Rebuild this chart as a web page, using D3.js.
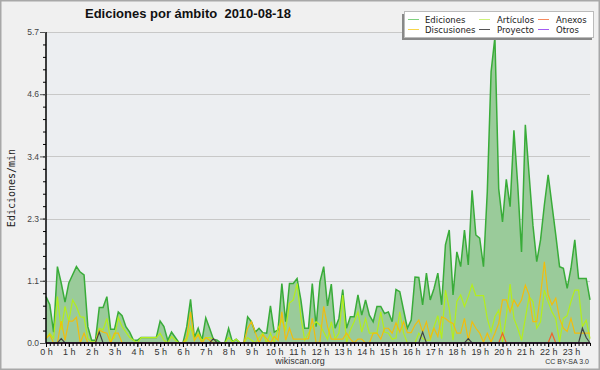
<!DOCTYPE html>
<html lang="es">
<head>
   <meta charset="utf-8">
   <title>Ediciones por ámbito 2010-08-18</title>
   <script src="https://cdn.jsdelivr.net/npm/d3@7"></script>
   <style type="text/css">
      body { margin: 0; background: #f0f0f0; }
      svg { display: block; }
      .tick text { font-family: "Liberation Sans", Arial, sans-serif; }
   </style>
</head>
<body>
   <script type="text/javascript">

      var w = 600;
      var h = 370;
      var margin = { top: 32, right: 10, bottom: 27, left: 46 };

      // 144 slots of 10 minutes, values in edits per minute
      var slots = d3.range(144);
      var hourTicks = d3.range(24);
      var yTicks = [0, 1.14, 2.28, 3.42, 4.56, 5.7];
      var yMax = 5.7;

      var ediciones = [
         0.85, 0.7, 0.2, 1.4, 1.1, 0.75, 1.1, 1.25, 1.4, 1.3, 1.25, 0.3,
         0.05, 0.05, 0.65, 0.65, 0.85, 0.25, 0.25, 0.57, 0.5, 0.3, 0.2, 0.05,
         0.05, 0.1, 0.1, 0.1, 0.1, 0.1, 0.4, 0.3, 0.05, 0.2, 0.1, 0.0,
         0.0, 0.3, 0.8, 0.1, 0.27, 0.05, 0.46, 0.27, 0.07, 0.05, 0.0, 0.0,
         0.27, 0.02, 0.07, 0.0, 0.0, 0.48, 0.39, 0.2, 0.27, 0.19, 0.18, 0.68,
         0.2, 0.24, 1.09, 0.39, 1.09, 1.09, 1.18, 0.79, 0.27, 0.27, 1.09, 0.3,
         1.12, 1.4, 0.68, 1.08, 0.27, 0.45, 0.98, 0.27, 0.48, 0.48, 0.88, 0.51,
         0.79, 0.51, 0.39, 0.67, 0.67, 0.54, 0.57, 0.39, 0.98, 0.94, 0.6, 0.27,
         0.42, 1.21, 1.2, 0.7, 1.28, 0.79, 1.0, 1.28, 0.7, 1.8, 2.07, 0.88,
         1.67, 1.4, 2.07, 1.43, 2.8, 1.98, 1.92, 1.4, 2.77, 4.97, 5.6, 2.83,
         2.22, 3.0, 2.5, 3.9, 2.9, 1.67, 4.0, 3.08, 2.16, 1.49, 1.89, 2.53,
         3.08, 2.53, 1.98, 1.4, 1.37, 1.0, 1.37, 1.89, 1.18, 1.18, 1.18, 0.79
      ];

      var articulos = [
         0.08, 0.18, 0.08, 0.85, 0.24, 0.67, 0.4, 0.79, 0.67, 0.48, 0.47, 0.08,
         0.02, 0.02, 0.27, 0.24, 0.45, 0.05, 0.1, 0.47, 0.3, 0.2, 0.1, 0.05,
         0.0, 0.1, 0.1, 0.1, 0.1, 0.1, 0.18, 0.05, 0.0, 0.12, 0.05, 0.0,
         0.0, 0.05, 0.3, 0.05, 0.18, 0.05, 0.1, 0.1, 0.07, 0.0, 0.0, 0.0,
         0.1, 0.02, 0.07, 0.0, 0.0, 0.1, 0.05, 0.0, 0.1, 0.18, 0.0, 0.18,
         0.0, 0.27, 0.42, 0.24, 0.73, 0.79, 1.09, 0.48, 0.05, 0.18, 0.3, 0.39,
         0.33, 0.2, 0.07, 0.39, 0.07, 0.18, 0.88, 0.0, 0.24, 0.39, 0.57, 0.2,
         0.45, 0.18, 0.18, 0.18, 0.57, 0.2, 0.18, 0.07, 0.09, 0.57, 0.18, 0.0,
         0.0, 0.0, 0.18, 0.08, 0.05, 0.05, 0.3, 0.5, 0.08, 0.97, 0.63, 0.05,
         0.76, 0.88, 0.67, 0.85, 1.07, 0.87, 0.87, 0.87, 0.45, 0.2, 0.48, 0.6,
         0.02, 0.5, 1.08, 0.45, 0.27, 0.05, 0.45, 0.85, 0.76, 0.27, 0.39, 0.97,
         0.76, 0.57, 0.45, 0.02, 0.45, 0.5, 0.76, 0.97, 0.97, 0.3, 0.42, 0.08
      ];

      var discusiones = [
         0.08, 0.15, 0.0, 0.0, 0.4, 0.05, 0.4, 0.4, 0.47, 0.0, 0.18, 0.0,
         0.0, 0.0, 0.24, 0.2, 0.18, 0.0, 0.18, 0.18, 0.0, 0.0, 0.0, 0.0,
         0.0, 0.0, 0.0, 0.0, 0.0, 0.0, 0.0, 0.0, 0.0, 0.0, 0.0, 0.0,
         0.0, 0.1, 0.57, 0.05, 0.15, 0.0, 0.1, 0.05, 0.0, 0.0, 0.0, 0.0,
         0.0, 0.0, 0.0, 0.0, 0.0, 0.27, 0.39, 0.2, 0.0, 0.15, 0.08, 0.0,
         0.12, 0.05, 0.57, 0.05, 0.27, 0.07, 0.07, 0.07, 0.07, 0.08, 0.45, 0.0,
         0.02, 0.67, 0.3, 0.07, 0.07, 0.07, 0.07, 0.18, 0.07, 0.0, 0.07, 0.07,
         0.0, 0.0, 0.18, 0.18, 0.07, 0.27, 0.27, 0.18, 0.37, 0.2, 0.39, 0.19,
         0.19, 0.33, 0.42, 0.2, 0.39, 0.09, 0.27, 0.12, 0.48, 0.45, 0.39, 0.36,
         0.18, 0.18, 0.45, 0.05, 0.39, 0.27, 0.18, 0.02, 0.18, 0.02, 0.18, 0.36,
         0.79, 0.79, 0.57, 0.79, 0.67, 0.79, 1.06, 0.88, 0.39, 0.39, 0.88, 1.49,
         0.88, 0.7, 0.82, 0.45, 0.27, 0.21, 0.45, 0.18, 0.18, 0.18, 0.18, 0.18
      ];

      var anexos = slots.map(function(i) {
         return { 120: 0.18, 133: 0.18 }[i] || 0;
      });

      var proyecto = slots.map(function(i) {
         return { 4: 0.08, 14: 0.2, 44: 0.08, 99: 0.2, 111: 0.08, 141: 0.27, 142: 0.1 }[i] || 0;
      });

      var otros = slots.map(function() { return 0; });

      var series = [
         { name: "Artículos", values: articulos, color: "#b4ee1c" },
         { name: "Discusiones", values: discusiones, color: "#f2bd0c" },
         { name: "Anexos", values: anexos, color: "#f0642a" },
         { name: "Proyecto", values: proyecto, color: "#444444" },
         { name: "Otros", values: otros, color: "#9a3cf0" }
      ];

      var legendItems = [
         { name: "Ediciones", color: "#7fd17f", col: 0, row: 0 },
         { name: "Discusiones", color: "#f7d54a", col: 0, row: 1 },
         { name: "Artículos", color: "#cdf27a", col: 1, row: 0 },
         { name: "Proyecto", color: "#555555", col: 1, row: 1 },
         { name: "Anexos", color: "#f58a5e", col: 2, row: 0 },
         { name: "Otros", color: "#a35cf2", col: 2, row: 1 }
      ];

      var svg = d3.select("body")
                  .append("svg")
                  .attr("width", w)
                  .attr("height", h);

      // frame
      svg.append("rect")
         .attr("x", 0.5).attr("y", 0.5)
         .attr("width", w - 1).attr("height", h - 1)
         .attr("fill", "#f0f0f0")
         .attr("stroke", "#a8a8a8")
         .attr("stroke-width", 2);

      var xScale = d3.scaleLinear()
                     .domain([0, 143])
                     .range([margin.left, w - margin.right]);

      var yScale = d3.scaleLinear()
                     .domain([0, yMax])
                     .range([h - margin.bottom, margin.top]);

      // plot background
      svg.append("rect")
         .attr("x", xScale(0)).attr("y", yScale(yMax))
         .attr("width", xScale(143) - xScale(0))
         .attr("height", yScale(0) - yScale(yMax))
         .attr("fill", "#eceef1");

      // grid lines
      svg.append("g")
         .selectAll("line")
         .data(yTicks.slice(1))
         .enter()
         .append("line")
         .attr("x1", xScale(0))
         .attr("x2", xScale(143))
         .attr("y1", function(d) { return Math.round(yScale(d)) + 0.5; })
         .attr("y2", function(d) { return Math.round(yScale(d)) + 0.5; })
         .attr("stroke", "#c8c8c8");

      // ediciones area + line
      var area = d3.area()
                   .x(function(d, i) { return xScale(i); })
                   .y0(yScale(0))
                   .y1(function(d) { return yScale(d); });

      var line = d3.line()
                   .x(function(d, i) { return xScale(i); })
                   .y(function(d) { return yScale(d); });

      svg.append("path")
         .datum(ediciones)
         .attr("d", area)
         .attr("fill", "#9acb9a");

      svg.append("path")
         .datum(ediciones)
         .attr("d", line)
         .attr("fill", "none")
         .attr("stroke", "#39ac39")
         .attr("stroke-width", 1.5);

      svg.selectAll("path.serie")
         .data(series)
         .enter()
         .append("path")
         .attr("class", "serie")
         .attr("d", function(d) { return line(d.values); })
         .attr("fill", "none")
         .attr("stroke", function(d) { return d.color; })
         .attr("stroke-width", 1.2);

      // axes
      var xAxis = d3.axisBottom(xScale)
                    .tickValues(hourTicks.map(function(d) { return d * 6; }))
                    .tickFormat(function(d) { return (d / 6) + " h"; })
                    .tickSize(4);

      var xMinor = d3.axisBottom(xScale)
                     .tickValues(slots)
                     .tickFormat("")
                     .tickSize(3);

      var yAxis = d3.axisLeft(yScale)
                    .tickValues(yTicks)
                    .tickFormat(d3.format(".1f"))
                    .tickSize(6);

      var yMinor = d3.axisLeft(yScale)
                     .tickValues(d3.range(0, 26).map(function(d) { return d * 0.228; }))
                     .tickFormat("")
                     .tickSize(3);

      svg.append("g")
         .attr("transform", "translate(0," + yScale(0) + ")")
         .call(xMinor)
         .call(function(g) { g.select(".domain").remove(); });

      svg.append("g")
         .attr("class", "axis")
         .attr("transform", "translate(0," + yScale(0) + ")")
         .call(xAxis)
         .call(function(g) {
            g.select(".domain").attr("stroke-width", 1.5).attr("d", "M" + xScale(0) + ",0H" + xScale(143));
            g.selectAll(".tick text").attr("font-size", "9px").attr("fill", "#333").attr("dy", "0.6em");
         });

      svg.append("g")
         .attr("transform", "translate(" + margin.left + ",0)")
         .call(yMinor)
         .call(function(g) { g.select(".domain").remove(); });

      svg.append("g")
         .attr("class", "axis")
         .attr("transform", "translate(" + margin.left + ",0)")
         .call(yAxis)
         .call(function(g) {
            g.select(".domain").attr("stroke-width", 1.5).attr("d", "M0," + yScale(yMax) + "V" + yScale(0));
            g.selectAll(".tick line").attr("stroke", "#555");
            g.selectAll(".tick text").attr("font-size", "8.5px").attr("fill", "#444").attr("x", -7);
         });

      // title
      svg.append("text")
         .attr("x", 85)
         .attr("y", 18)
         .attr("font-family", "Liberation Sans, Arial, sans-serif")
         .attr("font-weight", "bold")
         .attr("font-size", "13px")
         .attr("fill", "#111")
         .attr("xml:space", "preserve")
         .style("white-space", "pre")
         .text("Ediciones por ámbito  2010-08-18");

      // y label
      svg.append("text")
         .attr("transform", "translate(15," + 188 + ") rotate(-90)")
         .attr("text-anchor", "middle")
         .attr("font-family", "DejaVu Sans Mono, monospace")
         .attr("font-size", "10px")
         .attr("fill", "#222")
         .text("Ediciones/min");

      svg.append("text")
         .attr("x", 300)
         .attr("y", 364)
         .attr("text-anchor", "middle")
         .attr("font-family", "Liberation Sans, Arial, sans-serif")
         .attr("font-size", "9px")
         .attr("fill", "#333")
         .text("wikiscan.org");

      svg.append("text")
         .attr("x", 589)
         .attr("y", 364)
         .attr("text-anchor", "end")
         .attr("font-family", "Liberation Sans, Arial, sans-serif")
         .attr("font-size", "7px")
         .attr("fill", "#333")
         .text("CC BY-SA 3.0");

      // legend
      var legend = svg.append("g");

      legend.append("rect")
            .attr("x", 402).attr("y", 14)
            .attr("width", 190).attr("height", 26)
            .attr("fill", "#888");

      legend.append("rect")
            .attr("x", 404.5).attr("y", 11.5)
            .attr("width", 189).attr("height", 26)
            .attr("fill", "#ffffff")
            .attr("stroke", "#bbb");

      var colX = [408, 479, 538];
      var textX = [425, 497, 556];

      legend.selectAll("line.sample")
            .data(legendItems)
            .enter()
            .append("line")
            .attr("x1", function(d) { return colX[d.col]; })
            .attr("x2", function(d) { return colX[d.col] + 11; })
            .attr("y1", function(d) { return 19.5 + d.row * 10; })
            .attr("y2", function(d) { return 19.5 + d.row * 10; })
            .attr("stroke", function(d) { return d.color; })
            .attr("stroke-width", 1);

      legend.selectAll("text")
            .data(legendItems)
            .enter()
            .append("text")
            .attr("x", function(d) { return textX[d.col]; })
            .attr("y", function(d) { return 23 + d.row * 10; })
            .attr("font-family", "DejaVu Sans, sans-serif")
            .attr("font-size", "8.5px")
            .attr("fill", "#222")
            .text(function(d) { return d.name; });
   </script>
</body>
</html>
